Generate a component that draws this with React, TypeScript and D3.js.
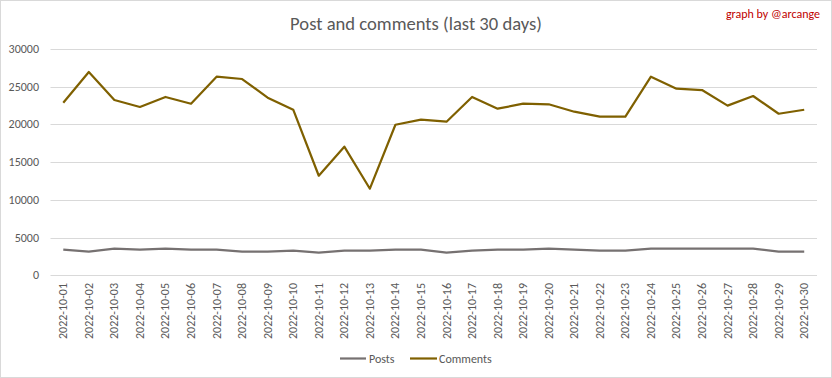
import React from "react";
import * as d3 from "d3";

const dates = Array.from({ length: 30 }, (_, i) => `2022-10-${String(i + 1).padStart(2, "0")}`);
const posts = [3400, 3130, 3530, 3400, 3530, 3400, 3400, 3130, 3130, 3260, 3000, 3260, 3260, 3400, 3400, 3000, 3260, 3400, 3400, 3530, 3400, 3260, 3260, 3530, 3530, 3530, 3530, 3530, 3130, 3130];
const comments = [22880, 26950, 23240, 22310, 23640, 22750, 26330, 26020, 23550, 21950, 13200, 17050, 11480, 19960, 20630, 20360, 23640, 22090, 22750, 22670, 21690, 21030, 21030, 26330, 24740, 24560, 22490, 23770, 21420, 21950];
const yTicks = [0, 5000, 10000, 15000, 20000, 25000, 30000];

const W = 832, H = 378;
const FONT = "Carlito, Calibri, Lato, 'Open Sans', sans-serif";

export default function App() {
  const x = d3.scaleBand<string>().domain(dates).range([50.5, 817]);
  const y = d3.scaleLinear().domain([0, 30000]).range([275.3, 49]);
  const cx = (d: string) => (x(d) as number) + x.bandwidth() / 2;
  const line = d3.line<number>().x((_, i) => cx(dates[i])).y((v) => y(v));
  return (
    <div style={{ position: "absolute", left: 0, top: 0 }}>
      <svg width={W} height={H} style={{ display: "block", background: "#fff" }} fontFamily={FONT}>
        <rect x={0.5} y={0.5} width={W - 1} height={H - 1} fill="#fff" stroke="#d9d9d9" />
        <text x={416} y={30} textAnchor="middle" fontSize={18.6} fill="#595959">Post and comments (last 30 days)</text>
        <text x={820} y={18} textAnchor="end" fontSize={12} fill="#c00000">graph by @arcange</text>
        {yTicks.map((t) => (
          <g key={t}>
            <line x1={50.5} x2={817} y1={Math.round(y(t)) + 0.5} y2={Math.round(y(t)) + 0.5} stroke="#d9d9d9" strokeWidth={1} />
            <text x={39} y={y(t) + 4} textAnchor="end" fontSize={12} fill="#595959">{t}</text>
          </g>
        ))}
        {dates.map((d) => (
          <text key={d} transform={`translate(${cx(d) + 4},283) rotate(-90)`} textAnchor="end" fontSize={12} fill="#595959">{d}</text>
        ))}
        <path d={line(posts) || ""} fill="none" stroke="#767171" strokeWidth={2.2} strokeLinejoin="round" />
        <path d={line(comments) || ""} fill="none" stroke="#7f6000" strokeWidth={2.2} strokeLinejoin="round" />
        <line x1={340} x2={366} y1={358.5} y2={358.5} stroke="#767171" strokeWidth={2.2} />
        <text x={369} y={362.5} fontSize={12} fill="#595959">Posts</text>
        <line x1={410} x2={437} y1={358.5} y2={358.5} stroke="#7f6000" strokeWidth={2.2} />
        <text x={439} y={362.5} fontSize={12} fill="#595959">Comments</text>
      </svg>
    </div>
  );
}
